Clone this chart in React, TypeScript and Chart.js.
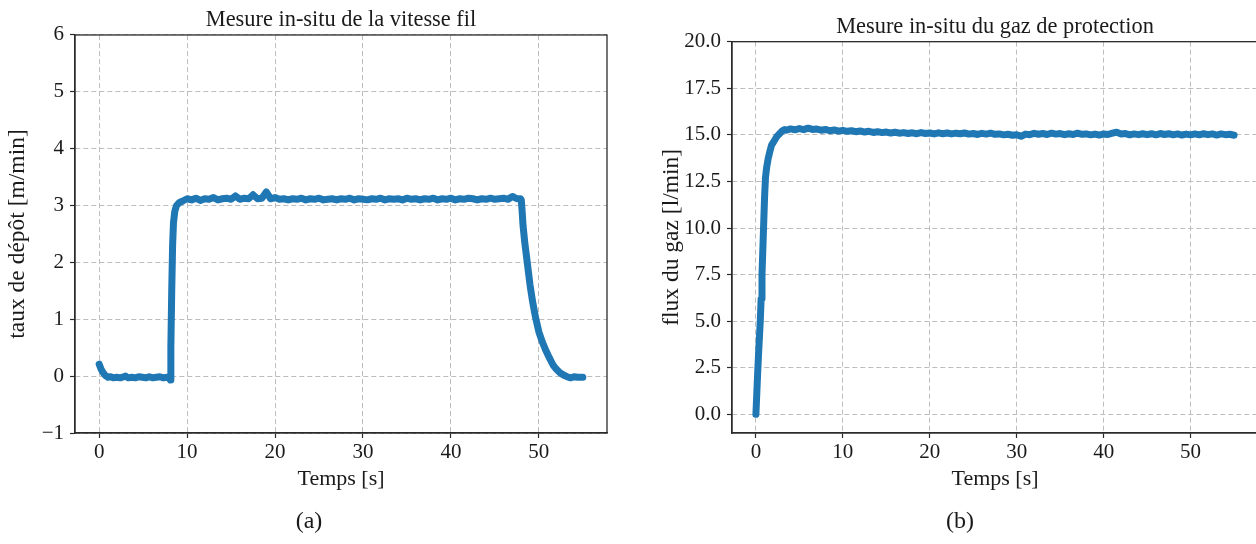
import React, { useEffect, useRef } from "react";
import { Chart, registerables } from "chart.js";

Chart.register(...registerables);

const FONT = '"Liberation Serif", "DejaVu Serif", serif';
const LINE_COLOR = "#1f77b4";
const TEXT_COLOR = "#1a1a1a";

// ---------- shared ----------
const xLabel = "Temps [s]";
const xTicks = [0, 10, 20, 30, 40, 50];
const xMin = -2.75;
const xMax = 57.75;

// ---------- panel (a) ----------
const titleA = "Mesure in-situ de la vitesse fil";
const yLabelA = "taux de dépôt [m/min]";
const captionA = "(a)";
const yTicksA = [-1, 0, 1, 2, 3, 4, 5, 6];
const timeA = [
  0, 0.2, 0.4, 0.6, 0.8, 1.0, 1.3, 1.6, 2.0, 2.4, 2.8, 3.0, 3.3, 3.7, 4.1, 4.5, 4.9, 5.3, 5.7, 6.1, 6.5, 6.9, 7.3, 7.7, 8.0, 8.1,
  8.15, 8.25, 8.35, 8.45, 8.6, 8.8, 9.1,
  9.5, 10.0, 10.5, 11.0, 11.5, 12.0, 12.5, 13.0, 13.5, 14.0, 14.5, 15.0, 15.5, 16.0, 16.5, 17.0, 17.5, 18.0, 18.5, 19.0, 19.5,
  20.0, 20.5, 21.0, 21.5, 22.0, 22.5, 23.0, 23.5, 24.0, 24.5, 25.0, 25.5, 26.0, 26.5, 27.0, 27.5, 28.0, 28.5, 29.0, 29.5,
  30.0, 30.5, 31.0, 31.5, 32.0, 32.5, 33.0, 33.5, 34.0, 34.5, 35.0, 35.5, 36.0, 36.5, 37.0, 37.5, 38.0, 38.5, 39.0, 39.5,
  40.0, 40.5, 41.0, 41.5, 42.0, 42.5, 43.0, 43.5, 44.0, 44.5, 45.0, 45.5, 46.0, 46.5, 47.0, 47.5, 47.9,
  48.0, 48.1, 48.2, 48.4, 48.6, 48.8, 49.0, 49.3, 49.6, 50.0, 50.4, 50.8, 51.2, 51.6, 52.0, 52.4, 52.8, 53.2, 53.6, 54.0, 54.4, 54.8, 55.0,
];
const speedA = [
  0.21, 0.13, 0.07, 0.03, 0.0, -0.02, -0.01, -0.03, -0.02, -0.03, -0.01, 0.0, -0.03, -0.02, -0.03, -0.01, -0.02, -0.03, -0.01, -0.03, -0.02, -0.01, -0.03, -0.02, -0.03, -0.07,
  0.5, 1.5, 2.3, 2.7, 2.9, 3.0, 3.05,
  3.08, 3.12, 3.1, 3.13, 3.09, 3.12, 3.11, 3.14, 3.1, 3.12, 3.13, 3.11, 3.17, 3.11, 3.13, 3.12, 3.19, 3.12, 3.13, 3.24, 3.12,
  3.14, 3.11, 3.12, 3.1, 3.12, 3.11, 3.13, 3.1, 3.12, 3.11, 3.13, 3.1, 3.11, 3.12, 3.1, 3.12, 3.11, 3.13, 3.1, 3.12,
  3.11, 3.1, 3.12, 3.11, 3.13, 3.1, 3.12, 3.11, 3.12, 3.1, 3.13, 3.11, 3.12, 3.1, 3.12, 3.11, 3.13, 3.1, 3.12, 3.11,
  3.13, 3.1, 3.12, 3.11, 3.13, 3.12, 3.1, 3.12, 3.11, 3.13, 3.11, 3.12, 3.13, 3.11, 3.16, 3.12, 3.12,
  3.1, 2.9, 2.65, 2.35, 2.1, 1.85, 1.6, 1.3, 1.05, 0.78, 0.6, 0.45, 0.32, 0.2, 0.12, 0.06, 0.02, -0.01, -0.03, -0.01, -0.02, -0.02, -0.02,
];

// ---------- panel (b) ----------
const titleB = "Mesure in-situ du gaz de protection";
const yLabelB = "flux du gaz [l/min]";
const captionB = "(b)";
const yTicksB = [0, 2.5, 5, 7.5, 10, 12.5, 15, 17.5, 20];
const timeB = [
  0, 0.1, 0.2, 0.3, 0.4, 0.5, 0.6, 0.7, 0.8, 0.9, 1.0, 1.1, 1.25, 1.4, 1.6, 1.8, 2.0, 2.2, 2.4, 2.7, 3.0, 3.3,
  3.5, 4.0, 4.5, 5.0, 5.5, 6.0, 6.5, 7.0, 7.5, 8.0, 8.5, 9.0, 9.5, 10.0, 10.5, 11.0, 11.5, 12.0, 12.5, 13.0, 13.5, 14.0, 14.5,
  15.0, 15.5, 16.0, 16.5, 17.0, 17.5, 18.0, 18.5, 19.0, 19.5, 20.0, 20.5, 21.0, 21.5, 22.0, 22.5, 23.0, 23.5, 24.0, 24.5,
  25.0, 25.5, 26.0, 26.5, 27.0, 27.5, 28.0, 28.5, 29.0, 29.5, 30.0, 30.5, 31.0, 31.5, 32.0, 32.5, 33.0, 33.5, 34.0, 34.5,
  35.0, 35.5, 36.0, 36.5, 37.0, 37.5, 38.0, 38.5, 39.0, 39.5, 40.0, 40.5, 41.0, 41.5, 42.0, 42.5, 43.0, 43.5, 44.0, 44.5,
  45.0, 45.5, 46.0, 46.5, 47.0, 47.5, 48.0, 48.5, 49.0, 49.5, 50.0, 50.5, 51.0, 51.5, 52.0, 52.5, 53.0, 53.5, 54.0, 54.5, 55.0,
];
const flowB = [
  0, 1.1, 2.2, 3.2, 4.1, 5.0, 6.2, 7.5, 8.9, 10.3, 11.7, 12.7, 13.3, 13.7, 14.1, 14.45, 14.6, 14.75, 14.9, 15.05, 15.2, 15.28,
  15.25, 15.32, 15.27, 15.34, 15.28, 15.36, 15.29, 15.31, 15.25, 15.29, 15.22, 15.26, 15.2, 15.24, 15.19, 15.22, 15.17, 15.21, 15.15, 15.19, 15.13, 15.17, 15.12,
  15.15, 15.1, 15.14, 15.09, 15.12, 15.07, 15.11, 15.06, 15.12, 15.07, 15.1, 15.05, 15.11, 15.06, 15.1, 15.05, 15.09, 15.06, 15.1, 15.04,
  15.07, 15.02, 15.08, 15.04, 15.09, 15.03, 15.05, 15.0, 15.03, 14.98, 15.01, 14.92, 15.04, 15.01, 15.08, 15.03, 15.07, 15.02, 15.09, 15.04,
  15.07, 15.01, 15.06, 15.02, 15.09, 15.03, 15.05, 15.0, 15.04, 14.99, 15.05, 15.02, 15.09, 15.14, 15.05, 15.07, 15.0, 15.05, 15.01, 15.06,
  15.01, 15.06, 15.0, 15.07, 15.02, 15.06, 15.0, 15.05, 14.99, 15.04, 15.0, 15.05, 15.0, 15.06, 15.01, 15.05, 14.99, 15.05, 15.01, 15.03, 14.98,
];

type PanelProps = {
  title: string;
  yLabel: string;
  caption: string;
  time: number[];
  values: number[];
  yTicks: number[];
  yMin: number;
  yMax: number;
  yFormat: (v: number) => string;
  left: number;
  width: number;
  yAxisWidth: number;
  padRight: number;
  titlePadTop: number;
  titlePadBottom: number;
  xAxisHeight: number;
  yTitlePad: number;
  captionX: number;
};

function Panel(p: PanelProps) {
  const ref = useRef<HTMLCanvasElement | null>(null);
  useEffect(() => {
    if (!ref.current) return;
    const points = p.time.map((t, i) => ({ x: t, y: p.values[i] }));
    const framePlugin = {
      id: "frame",
      afterDraw(chart: any) {
        const { ctx, chartArea: a } = chart;
        ctx.save();
        ctx.strokeStyle = "#2b2b2b";
        ctx.lineWidth = 1.3;
        ctx.strokeRect(a.left, a.top, a.right - a.left, a.bottom - a.top);
        ctx.fillStyle = TEXT_COLOR;
        ctx.font = `24px ${FONT}`;
        ctx.textAlign = "center";
        ctx.textBaseline = "middle";
        ctx.fillText(p.caption, p.captionX, 522);
        ctx.restore();
      },
    };
    const gridOpts = {
      color: "#bdbdbd",
      lineWidth: 1,
      borderDash: [5, 3],
      drawTicks: true,
      tickLength: 5,
      tickColor: "#2b2b2b",
      tickWidth: 1.2,
      tickBorderDash: [],
    };
    const borderOpts = { display: true, color: "#2b2b2b", width: 1.3, dash: [5, 3] };
    const tickFont = { family: FONT, size: 21 };
    const chart = new Chart(ref.current, {
      type: "line",
      data: {
        datasets: [
          {
            data: points,
            borderColor: LINE_COLOR,
            backgroundColor: LINE_COLOR,
            borderWidth: 7,
            pointRadius: 0,
            tension: 0,
            fill: false,
            borderCapStyle: "round",
            borderJoinStyle: "round",
          },
        ],
      },
      options: {
        animation: false,
        responsive: false,
        maintainAspectRatio: false,
        devicePixelRatio: 1,
        events: [],
        layout: { padding: { left: 0, top: 0, right: p.padRight, bottom: 0 } },
        plugins: {
          legend: { display: false },
          tooltip: { enabled: false },
          title: {
            display: true,
            text: p.title,
            fullSize: false,
            color: TEXT_COLOR,
            font: { family: FONT, size: 22.4, weight: "normal", lineHeight: 1.2 },
            padding: { top: p.titlePadTop, bottom: p.titlePadBottom },
          },
        },
        scales: {
          x: {
            type: "linear",
            min: xMin,
            max: xMax,
            afterBuildTicks: (s: any) => {
              s.ticks = xTicks.map((v) => ({ value: v }));
            },
            afterFit: (s: any) => {
              s.height = p.xAxisHeight;
            },
            ticks: {
              color: TEXT_COLOR,
              font: tickFont,
              padding: 2,
              maxRotation: 0,
              autoSkip: false,
              callback: (v: any) => String(v),
            },
            grid: gridOpts,
            border: borderOpts,
            title: {
              display: true,
              text: xLabel,
              color: TEXT_COLOR,
              font: { family: FONT, size: 22 },
              padding: { top: 0, bottom: 52 },
            },
          },
          y: {
            type: "linear",
            min: p.yMin,
            max: p.yMax,
            afterBuildTicks: (s: any) => {
              s.ticks = p.yTicks.map((v) => ({ value: v }));
            },
            afterFit: (s: any) => {
              s.width = p.yAxisWidth;
            },
            ticks: {
              color: TEXT_COLOR,
              font: tickFont,
              padding: 6,
              autoSkip: false,
              callback: (v: any) => p.yFormat(Number(v)),
            },
            grid: gridOpts,
            border: borderOpts,
            title: {
              display: true,
              text: p.yLabel,
              color: TEXT_COLOR,
              font: { family: FONT, size: 23.5 },
              padding: { top: p.yTitlePad, bottom: 0 },
            },
          },
        },
      },
      plugins: [framePlugin],
    } as any);
    return () => chart.destroy();
  }, []);
  return (
    <canvas
      ref={ref}
      width={p.width}
      height={544}
      style={{ position: "absolute", left: p.left, top: 0, width: p.width, height: 544 }}
    />
  );
}

const fmtA = (v: number) => (v < 0 ? "\u2212" + Math.abs(v) : String(v));
const fmtB = (v: number) => v.toFixed(1);

export default function App() {
  return (
    <div
      style={{
        position: "fixed",
        left: 0,
        top: 0,
        width: 1256,
        height: 544,
        overflow: "hidden",
        background: "#ffffff",
      }}
    >
      <Panel
        title={titleA}
        yLabel={yLabelA}
        caption={captionA}
        time={timeA}
        values={speedA}
        yTicks={yTicksA}
        yMin={-1}
        yMax={6}
        yFormat={fmtA}
        left={0}
        width={628}
        yAxisWidth={75}
        padRight={21}
        titlePadTop={6.6}
        titlePadBottom={1.5}
        xAxisHeight={111}
        yTitlePad={4}
        captionX={309}
      />
      <Panel
        title={titleB}
        yLabel={yLabelB}
        caption={captionB}
        time={timeB}
        values={flowB}
        yTicks={yTicksB}
        yMin={-1}
        yMax={20}
        yFormat={fmtB}
        left={628}
        width={640}
        yAxisWidth={104}
        padRight={10}
        titlePadTop={13.6}
        titlePadBottom={1.2}
        xAxisHeight={111}
        yTitlePad={30}
        captionX={332}
      />
    </div>
  );
}
